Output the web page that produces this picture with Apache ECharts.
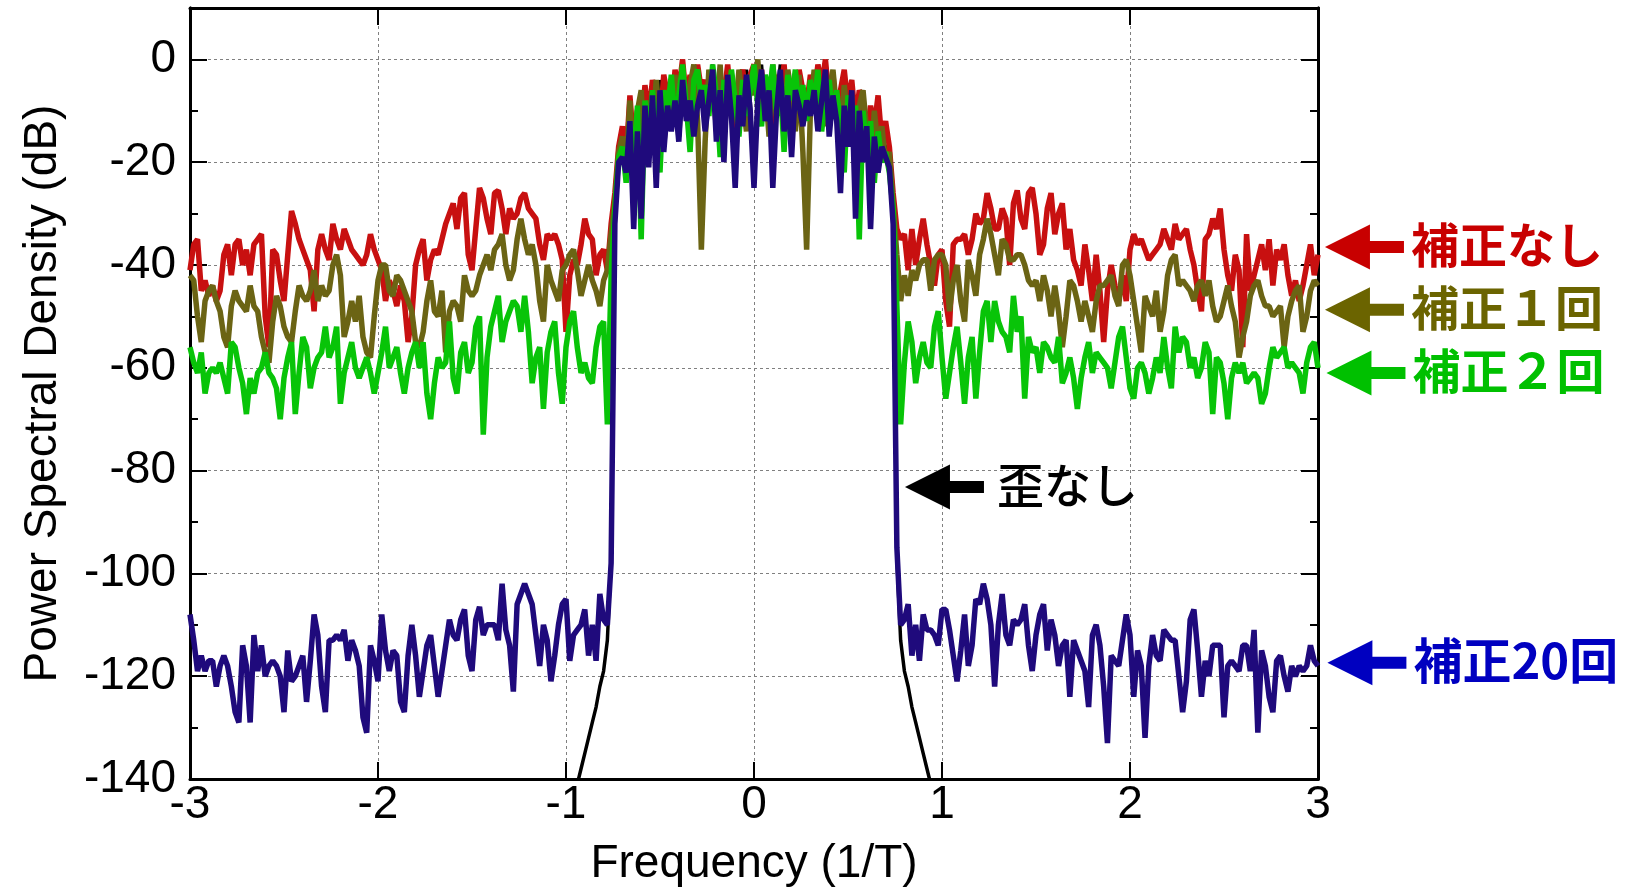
<!DOCTYPE html>
<html>
<head>
<meta charset="utf-8">
<script src="https://cdn.jsdelivr.net/npm/echarts@6/dist/echarts.min.js"></script>
<style>
html,body{margin:0;padding:0;background:#fff;}
#chart{width:1630px;height:893px;}
</style>
</head>
<body>
<div id="chart"></div>
<script>
// Frequency sample grid (1/T), -3 .. 3, step 0.02
const freq = [];
for (let i = 0; i <= 300; i++) freq.push(Math.round((-3 + 0.02 * i) * 100) / 100);

const xTicks = [-3, -2, -1, 0, 1, 2, 3];
const yTicks = [-140, -120, -100, -80, -60, -40, -20, 0];

// ---- 補正なし (red) ----
const redLeft = [
-41,-36,-35,-45,-43,-46,-44,-47,-45,-38,
-36,-42,-36,-35,-40,-37,-42,-36,-35,-34,
-50,-56,-37,-38,-43,-47,-38,-29.5,-32,-35,
-37,-39,-41,-49,-37,-34,-37,-39,-32,-35,
-37,-33,-35,-37,-38,-39,-40,-38,-34,-37,
-39,-41,-47,-43,-45,-48,-44,-47,-55,-50,
-40,-37,-35,-43,-39,-37,-38,-35,-32,-30,
-28,-33,-27,-26,-38,-41,-33,-25,-27,-31,
-34,-26,-25.5,-29,-34,-29,-31,-30,-27,-26,
-29,-30,-31,-36,-39,-34,-35,-34,-36,-39,
-53,-42,-39,-40,-36,-31,-34,-35,-42,-38,
-37,-41, -32];
const redBand = [
-26,-17,-13,-19,-7,-17,-10,-14,-5,-11,
-4,-8,-13,-3,-7,-12,-2,-6,0,-8,
-3,-10,-1,-6,-4,-9,-2,-14,-4,-7,
-1,-9,-18,-5,-2,-8,-3,-1,-6,-2,
-9,-4,-17,-3,-7,-1,-10,-4,-13,-2,
-6,-9,-3,-7,-1,-5,0,-8,-3,-11,
-6,-2,-9,-4,-12,-6,-8,-15,-9,-13,
-7,-16,-12,-17,-26];
const redRight = [-33,
-35,-34,-41,-33,-40,-35,-31,-36,-40,-44,
-38,-37,-47,-52,-36,-35,-35,-34,-38,-35,
-30,-32,-31,-26,-29,-33,-33,-29,-31,-40,
-28,-25.5,-31,-33,-26,-25,-30,-38,-36,-29,
-26,-34,-30,-28,-37,-33,-39,-41,-44,-36,
-41,-47,-38,-45,-55,-45,-40,-44,-47,-42,
-47,-37,-34,-36,-35,-37,-39,-38,-37,-36,
-33,-35,-37,-32,-35,-34,-33,-37,-40,-45,
-49,-35,-34,-31,-33,-29,-37,-42,-45,-38,
-41,-56,-34,-45,-42,-39,-36,-41,-35,-44,
-37,-39,-36,-42,-46,-43,-47,-44,-40,-36,
-42,-38];

// ---- 補正１回 (olive) ----
const oliveLeft = [
-42,-43,-50,-55,-47,-45,-44,-47,-49,-54,
-56,-48,-45,-47,-48,-49,-44,-48,-49,-54,
-57,-59,-51,-46,-48,-52,-54,-55,-49,-44,
-46,-47,-45,-41,-47,-44,-46,-45,-40,-38,
-42,-54,-51,-47,-51,-46,-54,-57,-58,-50,
-43,-40,-40,-45,-46,-42,-43,-45,-47,-49,
-55,-56,-53,-47,-43,-49,-50,-45,-57,-49,
-47,-48,-51,-42,-45,-46,-45,-42,-40,-38,
-41,-37,-36,-34,-40,-43,-41,-35,-31,-35,
-38,-36,-40,-47,-51,-40,-43,-45,-47,-41,
-40,-38,-37,-41,-46,-43,-40,-43,-45,-48,
-43,-41, -34];
const oliveBand = [
-28,-18,-15,-21,-8,-23,-10,-6,-20,-8,
-14,-4,-12,-17,-6,-10,-3,-15,-2,-9,
-5,-1,-12,-37,-16,-2,-6,-10,-1,-15,
-6,-3,-11,-2,-8,-14,-3,-7,0,-10,
-5,-15,-1,-8,-4,-12,-2,-7,-14,-3,
-18,-37,-10,-2,-8,-4,-13,-6,-2,-10,
-16,-5,-12,-7,-19,-9,-6,-14,-21,-10,
-17,-13,-20,-18,-28];
const oliveRight = [-38,
-47,-42,-46,-41,-43,-40,-39,-39,-45,-39,
-38,-38,-40,-49,-43,-40,-47,-51,-39,-42,
-46,-38,-35,-31,-34,-38,-42,-35,-36,-39,
-39,-38,-38,-40,-43,-44,-43,-47,-42,-45,
-50,-44,-49,-56,-50,-43,-44,-47,-51,-47,
-50,-53,-47,-44,-44,-43,-42,-46,-48,-40,
-39,-42,-47,-52,-57,-46,-48,-50,-45,-53,
-49,-42,-39,-38,-44,-43,-44,-45,-47,-44,
-43,-46,-43,-48,-51,-50,-47,-44,-48,-51,
-58,-54,-51,-46,-44,-43,-46,-48,-48,-50,
-49,-48,-56,-50,-47,-45,-44,-53,-50,-45,
-43,-44];

// ---- 補正２回 (green) ----
const greenLeft = [
-56,-59,-61,-57,-65,-61,-60,-61,-59,-62,
-65,-55,-56,-60,-63,-69,-62,-65,-61,-60,
-57,-61,-62,-64,-70,-62,-58,-55,-69,-61,
-54,-56,-64,-60,-58,-57,-52,-58,-56,-52,
-67,-61,-58,-55,-60,-62,-60,-58,-61,-65,
-61,-57,-52,-60,-58,-56,-61,-65,-60,-57,
-55,-60,-55,-65,-70,-63,-58,-60,-59,-51,
-62,-65,-57,-55,-61,-59,-52,-50,-73,-58,
-52,-49,-46,-55,-51,-49,-47,-48,-53,-46,
-53,-63,-58,-56,-68,-57,-53,-51,-61,-67,
-56,-51,-49,-56,-61,-59,-62,-63,-56,-52,
-51,-71, -42];
const greenBand = [
-29,-19,-17,-24,-12,-20,-9,-35,-8,-15,
-6,-13,-22,-6,-10,-3,-12,-7,-1,-9,
-18,-4,-2,-8,-5,-11,-1,-7,-19,-4,
-9,-2,-8,-15,-4,-11,-6,-1,-9,-13,
-3,-7,-1,-11,-5,-18,-3,-8,-2,-10,
-5,-12,-4,-9,-2,-14,-7,-4,-11,-6,
-13,-22,-7,-14,-9,-35,-10,-17,-12,-24,
-14,-20,-18,-22,-29];
const greenRight = [-48,
-71,-59,-51,-55,-63,-58,-55,-59,-60,-52,
-49,-58,-66,-61,-56,-52,-59,-67,-58,-54,
-66,-57,-49,-47,-55,-47,-51,-53,-54,-57,
-46,-53,-50,-66,-54,-57,-56,-61,-55,-56,
-58,-59,-54,-63,-61,-58,-62,-68,-62,-58,
-55,-61,-57,-58,-59,-60,-64,-59,-54,-52,
-58,-64,-66,-60,-59,-61,-65,-62,-58,-61,
-54,-60,-64,-52,-57,-54,-55,-60,-58,-62,
-60,-55,-57,-69,-58,-59,-63,-70,-62,-59,
-61,-59,-63,-62,-61,-62,-67,-65,-60,-56,
-58,-57,-56,-60,-59,-60,-61,-65,-59,-56,
-55,-60];

// ---- 補正20回 (navy) ----
const navyLeft = [
-108,-113,-119,-116,-119,-117,-117,-122,-118,-116,
-118,-122,-127,-129,-114,-118,-129,-112,-119,-114,
-120,-118,-117,-118,-120,-127,-115,-121,-120,-118,
-116,-125,-117,-108,-112,-122,-127,-113,-113,-112,
-113,-111,-117,-113,-115,-118,-128,-131,-114,-117,
-121,-108,-115,-119,-115,-116,-125,-127,-116,-110,
-116,-124,-119,-114,-112,-118,-124,-119,-114,-109,
-112,-113,-109,-107,-116,-119,-109,-106.5,-112,-110,
-110,-110,-113,-102,-111,-114,-123,-106,-104,-102,
-104,-106,-112,-118,-110,-113,-121,-116,-110,-106,
-105,-117,-112,-111,-110,-107,-116,-110,-117,-104,
-109,-110, -98];
const navyBand = [
-32,-20,-19,-22,-12,-33,-14,-31,-9,-21,
-7,-25,-6,-18,-9,-14,-8,-16,-4,-12,
-8,-15,-9,-6,-14,-8,-2,-16,-6,-20,
-3,-11,-25,-7,-13,-3,-10,-25,-8,-2,
-12,-6,-25,-10,-2,-14,-7,-19,-6,-9,
-13,-8,-11,-6,-14,-8,-2,-15,-7,-12,
-26,-9,-17,-6,-31,-10,-20,-13,-33,-15,
-22,-17,-19,-21,-32];
const navyRight = [-95,
-110,-109,-106,-116,-110,-117,-108,-111,-111,-112,
-114,-107,-107,-111,-116,-121,-115,-108,-118,-114,
-105,-106,-102,-105,-110,-122,-110,-104,-112,-114,
-109,-110,-109,-106,-114,-119,-112,-108,-106,-115,
-109,-112,-118,-114,-113,-124,-113,-115,-117,-119,
-126,-112,-110,-114,-122,-133,-116,-117,-118,-113,
-108,-112,-124,-115,-118,-132,-118,-112,-116,-117,
-111,-112,-113,-113,-120,-127,-121,-109,-107,-115,
-124,-117,-120,-114,-114,-114,-128,-118,-117,-118,
-119,-114,-114,-119,-111,-131,-115,-118,-124,-127,
-117,-116,-120,-123,-118,-120,-118,-119,-118,-114,
-117,-118];

// ---- 歪なし (black, ideal), x = -0.96 .. 0.96 ----
const blackStartIndex = 102;
const blackDb = [
-146,-141,-138,-135,-132,-129,-126,-122,-119,-113,-97,
-30,-19,-17,-21,-10,-30,-12,-28,-7,-19,
-5,-22,-4,-16,-7,-12,-6,-14,-1,-10,
-6,-13,-7,-4,-12,-6,-1,-14,-4,-18,
-2,-9,-22,-5,-11,-2,-8,-22,-6,-1,
-10,-4,-22,-8,-1,-12,-5,-17,-4,-7,
-11,-6,-9,-4,-12,-6,-1,-13,-5,-10,
-23,-7,-15,-4,-28,-8,-18,-11,-30,-13,
-20,-15,-17,-19,-30,
-97,-113,-119,-122,-126,-129,-132,-135,-138,-141,-146];

const red = redLeft.concat(redBand, redRight);
const olive = oliveLeft.concat(oliveBand, oliveRight);
const green = greenLeft.concat(greenBand, greenRight);
const navy = navyLeft.concat(navyBand, navyRight);

const pairs = arr => arr.map((v, i) => [freq[i], v]);
const blackPairs = blackDb.map((v, k) => [freq[blackStartIndex + k], v]);

// annotation labels (anchored in data coordinates)
const labels = [
  {text: '補正なし', x: 3.037, y: -36.5, color: '#c80000', weight: 'bold', size: 48, gap: 86},
  {text: '補正１回', x: 3.037, y: -48.7, color: '#6b6400', weight: 'bold', size: 48, gap: 86},
  {text: '補正２回', x: 3.045, y: -61.0, color: '#00c000', weight: 'bold', size: 48, gap: 86},
  {text: '補正20回', x: 3.050, y: -117.4, color: '#0000c0', weight: 'bold', size: 49, gap: 86},
  {text: '歪なし', x: 0.803, y: -83.2, color: '#000000', weight: '500', size: 47, gap: 92}
];

const LATIN = '"Liberation Sans", Arial, Helvetica, sans-serif';
const CJK = '"Noto Sans CJK JP", "Noto Sans CJK SC", sans-serif';

const chart = echarts.init(document.getElementById('chart'), null, {renderer: 'canvas'});

const gridLine = {show: true, lineStyle: {color: '#808080', width: 1, type: [3, 3]}};
const frame = {show: true, onZero: false, lineStyle: {color: '#000', width: 3}};

function lineSeries(name, data, color, width) {
  return {
    name, type: 'line', data, showSymbol: false, symbol: 'none',
    xAxisIndex: 0, yAxisIndex: 0,
    lineStyle: {color, width, join: 'bevel'}, itemStyle: {color},
    emphasis: {disabled: true}, silent: true, animation: false, clip: true
  };
}

chart.setOption({
  animation: false,
  backgroundColor: '#fff',
  grid: {left: 190, right: 312, top: 8, bottom: 114, containLabel: false},
  xAxis: [
    {
      type: 'value', min: -3, max: 3, interval: 1, position: 'bottom',
      axisLine: frame,
      axisTick: {show: true, inside: true, length: 17, lineStyle: {color: '#000', width: 2}},
      axisLabel: {fontSize: 46, color: '#000', margin: 3, fontFamily: LATIN,
        formatter: v => xTicks.includes(v) ? String(v) : ''},
      splitLine: gridLine,
      name: 'Frequency (1/T)', nameLocation: 'middle', nameGap: 62,
      nameTextStyle: {fontSize: 46, color: '#000', fontFamily: LATIN}
    },
    {
      type: 'value', min: -3, max: 3, interval: 1, position: 'top',
      axisLine: frame,
      axisTick: {show: true, inside: true, length: 17, lineStyle: {color: '#000', width: 2}},
      axisLabel: {show: false}, splitLine: {show: false}
    }
  ],
  yAxis: [
    {
      type: 'value', min: -140, max: 10, interval: 20, position: 'left',
      axisLine: frame,
      axisTick: {show: true, inside: true, length: 17, lineStyle: {color: '#000', width: 2}},
      axisLabel: {fontSize: 46, color: '#000', margin: 14, fontFamily: LATIN,
        formatter: v => yTicks.includes(v) ? String(v) : ''},
      splitLine: gridLine,
      name: 'Power Spectral Density (dB)', nameLocation: 'middle', nameGap: 124, nameRotate: 90,
      nameTextStyle: {fontSize: 46, color: '#000', fontFamily: LATIN}
    },
    {
      type: 'value', min: -140, max: 10, interval: 10, position: 'left',
      axisLine: frame,
      axisTick: {show: true, inside: true, length: 8, lineStyle: {color: '#000', width: 2}},
      axisLabel: {show: false}, splitLine: {show: false}
    },
    {
      type: 'value', min: -140, max: 10, interval: 20, position: 'right',
      axisLine: frame,
      axisTick: {show: true, inside: true, length: 17, lineStyle: {color: '#000', width: 2}},
      axisLabel: {show: false}, splitLine: {show: false}
    },
    {
      type: 'value', min: -140, max: 10, interval: 10, position: 'right',
      axisLine: frame,
      axisTick: {show: true, inside: true, length: 8, lineStyle: {color: '#000', width: 2}},
      axisLabel: {show: false}, splitLine: {show: false}
    }
  ],
  series: [
    lineSeries('歪なし', blackPairs, '#000000', 3.5),
    lineSeries('補正なし', pairs(red), '#c81010', 5.5),
    lineSeries('補正１回', pairs(olive), '#6b6414', 5.5),
    lineSeries('補正２回', pairs(green), '#08c408', 5.5),
    lineSeries('補正20回', pairs(navy), '#1f0a7c', 5.5)
  ]
});

// arrows + texts placed via the chart's own coordinate conversion
const graphics = [];
labels.forEach(l => {
  const p = chart.convertToPixel({xAxisIndex: 0, yAxisIndex: 0}, [l.x, l.y]);
  const tx = p[0], ty = p[1];
  graphics.push({
    type: 'polygon', silent: true, z: 100,
    shape: {points: [
      [tx, ty], [tx + 45, ty - 22.5], [tx + 45, ty - 6], [tx + 79, ty - 6],
      [tx + 79, ty + 6], [tx + 45, ty + 6], [tx + 45, ty + 22.5]
    ]},
    style: {fill: l.color}
  });
  graphics.push({
    type: 'text', silent: true, z: 100,
    x: tx + l.gap, y: ty - 2,
    style: {text: l.text, fill: l.color, font: l.weight + ' ' + l.size + 'px ' + CJK,
      verticalAlign: 'middle', align: 'left'}
  });
});
chart.setOption({graphic: graphics});
</script>
</body>
</html>
